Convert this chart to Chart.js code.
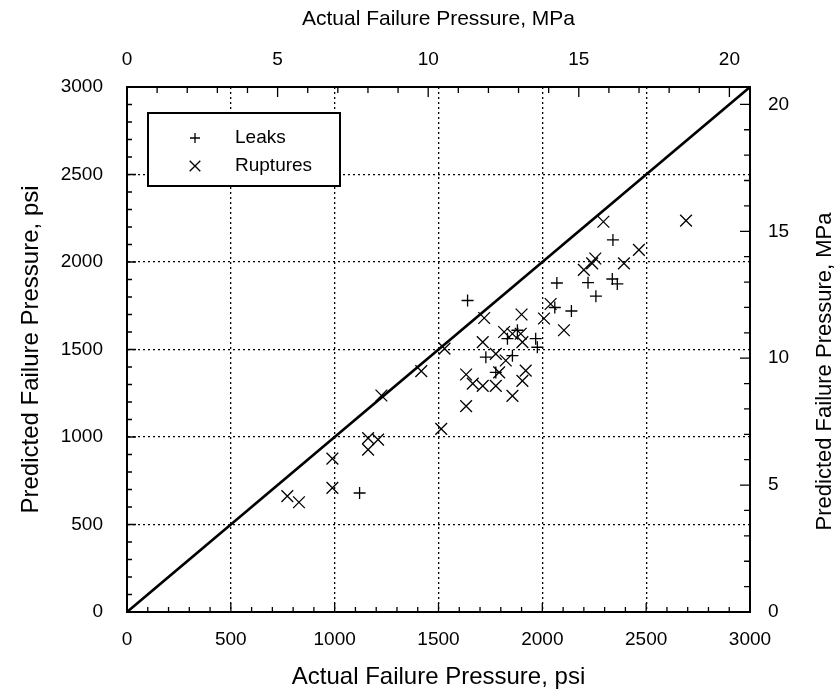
<!DOCTYPE html>
<html>
<head>
<meta charset="utf-8">
<script src="https://cdn.jsdelivr.net/npm/chart.js@4.4.0/dist/chart.umd.min.js"></script>
<style>
  body { margin: 0; background: #fff; }
</style>
</head>
<body>
<canvas id="failChart" width="839" height="692"></canvas>
<script>
const PSI_PER_MPA = 145.038;
const psiTicks = [0, 500, 1000, 1500, 2000, 2500, 3000];
const mpaTicks = [0, 5, 10, 15, 20];

// leaks (+): actual vs predicted failure pressure, psi
const leaksActual    = [1120, 1640, 1728, 1776, 1832, 1880, 1856, 1968, 1976, 2060, 2070, 2140, 2220, 2258, 2337, 2361, 2340];
const leaksPredicted = [ 680, 1780, 1456, 1369, 1562, 1610, 1465, 1562, 1513, 1740, 1880, 1720, 1882, 1805, 1903, 1875, 2126];

// ruptures (x)
const rupturesActual    = [772, 828, 989, 989, 1161, 1209, 1161, 1225, 1417, 1513, 1529, 1633, 1665, 1633, 1713, 1816, 1856, 1896, 1904, 2104, 2008, 1776, 1824, 1792, 1920, 1904, 1713, 1776, 1856, 1720, 1900, 2040, 2255, 2240, 2200, 2294, 2692, 2465, 2393];
const rupturesPredicted = [662, 627, 876, 709,  994,  985,  928, 1237, 1376, 1046, 1505, 1357, 1305, 1176, 1542, 1600, 1590, 1590, 1542, 1610, 1677, 1475, 1437, 1369, 1379, 1321, 1292, 1292, 1235, 1680, 1700, 1760, 2020, 1992, 1955, 2230, 2236, 2069, 1992];

const equalityLine = [0, 3000];

const fontFamily = "'Liberation Sans', Arial, sans-serif";

function zip(xs, ys) {
  return xs.map((x, i) => ({ x: x, y: ys[i] }));
}

// minor ticks drawn inward from each axis line
const inwardTicks = {
  id: 'inwardTicks',
  afterDatasetsDraw(chart) {
    const ctx = chart.ctx;
    const a = chart.chartArea;
    ctx.save();
    ctx.strokeStyle = '#000';
    ctx.lineWidth = 1.3;
    const psiMax = 3000, mpaMax = 3000 / PSI_PER_MPA;
    ctx.beginPath();
    for (let v = 0; v <= psiMax; v += 100) {
      const len = v % 500 === 0 ? 9 : 5;
      const px = chart.scales.x.getPixelForValue(v);
      ctx.moveTo(px, a.bottom); ctx.lineTo(px, a.bottom - len);
      const py = chart.scales.y.getPixelForValue(v);
      ctx.moveTo(a.left, py); ctx.lineTo(a.left + len, py);
    }
    for (let v = 0; v <= mpaMax; v += 1) {
      const len = v % 5 === 0 ? 10 : 6;
      const px = chart.scales.x2.getPixelForValue(v);
      ctx.moveTo(px, a.top); ctx.lineTo(px, a.top + len);
      const py = chart.scales.y2.getPixelForValue(v);
      ctx.moveTo(a.right, py); ctx.lineTo(a.right - len, py);
    }
    ctx.stroke();
    ctx.restore();
  }
};

const boxLegend = {
  id: 'boxLegend',
  afterDatasetsDraw(chart) {
    const ctx = chart.ctx;
    const a = chart.chartArea;
    const bx = a.left + 21, by = a.top + 26, bw = 192, bh = 73;
    ctx.save();
    ctx.fillStyle = '#fff';
    ctx.fillRect(bx, by, bw, bh);
    ctx.strokeStyle = '#000';
    ctx.lineWidth = 2;
    ctx.strokeRect(bx, by, bw, bh);
    const items = chart.data.datasets.filter(d => d.label);
    items.forEach((d, i) => {
      const ry = by + 25 + i * 28;
      ctx.strokeStyle = '#000';
      ctx.lineWidth = 1.3;
      Chart.helpers.drawPoint(ctx, { pointStyle: d.pointStyle, radius: d.pointStyle === 'cross' ? 5 : 7.5, rotation: 0, borderWidth: 1.3 }, bx + 47, ry);
      ctx.fillStyle = '#000';
      ctx.font = '19px ' + fontFamily;
      ctx.textAlign = 'left';
      ctx.textBaseline = 'middle';
      ctx.fillText(d.label, bx + 87, ry);
    });
    ctx.restore();
  }
};

const rightTitle = {
  id: 'rightTitle',
  afterDraw(chart) {
    const ctx = chart.ctx;
    const a = chart.chartArea;
    ctx.save();
    ctx.translate(825, (a.top + a.bottom) / 2 + 22);
    ctx.rotate(-Math.PI / 2);
    ctx.fillStyle = '#000';
    ctx.font = '22px ' + fontFamily;
    ctx.textAlign = 'center';
    ctx.textBaseline = 'middle';
    ctx.fillText('Predicted Failure Pressure, MPa', 0, 0);
    ctx.restore();
  }
};

const tickFont = { size: 19, family: fontFamily };

const config = {
  type: 'scatter',
  data: {
    datasets: [
      {
        label: 'Leaks',
        data: zip(leaksActual, leaksPredicted),
        pointStyle: 'cross',
        pointRadius: 6,
        borderColor: '#000',
        backgroundColor: 'transparent',
        borderWidth: 1.3
      },
      {
        label: 'Ruptures',
        data: zip(rupturesActual, rupturesPredicted),
        pointStyle: 'crossRot',
        pointRadius: 8.3,
        borderColor: '#000',
        backgroundColor: 'transparent',
        borderWidth: 1.3
      },
      {
        data: zip(equalityLine, equalityLine),
        showLine: true,
        pointRadius: 0,
        borderColor: '#000',
        borderWidth: 2.6
      }
    ]
  },
  options: {
    responsive: false,
    animation: false,
    layout: { padding: 0 },
    plugins: {
      legend: { display: false },
      tooltip: { enabled: false }
    },
    scales: {
      x: {
        type: 'linear',
        position: 'bottom',
        min: 0,
        max: 3000,
        afterBuildTicks: s => { s.ticks = psiTicks.map(v => ({ value: v })); },
        afterFit: s => { s.height = 80; },
        ticks: { color: '#000', font: tickFont, padding: 16, maxRotation: 0, callback: v => String(v) },
        grid: { color: '#000', lineWidth: 1.3, drawTicks: false },
        border: { color: '#000', width: 2, dash: [2, 3] },
        title: {
          display: true,
          text: 'Actual Failure Pressure, psi',
          color: '#000',
          font: { size: 24, family: fontFamily },
          padding: { top: 0, bottom: 0 }
        }
      },
      y: {
        type: 'linear',
        position: 'left',
        min: 0,
        max: 3000,
        afterBuildTicks: s => { s.ticks = psiTicks.map(v => ({ value: v })); },
        afterFit: s => { s.width = 127; },
        ticks: { color: '#000', font: tickFont, padding: 24, callback: v => String(v) },
        grid: { color: '#000', lineWidth: 1.3, drawTicks: false },
        border: { color: '#000', width: 2, dash: [2, 3] },
        title: {
          display: true,
          text: 'Predicted Failure Pressure, psi',
          color: '#000',
          font: { size: 24, family: fontFamily },
          padding: { top: 17, bottom: 0 }
        }
      },
      x2: {
        type: 'linear',
        position: 'top',
        min: 0,
        max: 3000 / PSI_PER_MPA,
        afterBuildTicks: s => { s.ticks = mpaTicks.map(v => ({ value: v })); },
        afterFit: s => { s.height = 87; },
        ticks: { color: '#000', font: tickFont, padding: 16, maxRotation: 0, callback: v => String(v) },
        grid: { display: false, drawTicks: false },
        border: { color: '#000', width: 2 },
        title: {
          display: true,
          text: 'Actual Failure Pressure, MPa',
          color: '#000',
          font: { size: 21, family: fontFamily },
          padding: { top: 7, bottom: 0 }
        }
      },
      y2: {
        type: 'linear',
        position: 'right',
        min: 0,
        max: 3000 / PSI_PER_MPA,
        afterBuildTicks: s => { s.ticks = mpaTicks.map(v => ({ value: v })); },
        afterFit: s => { s.width = 89; },
        ticks: { color: '#000', font: tickFont, padding: 18, callback: v => String(v) },
        grid: { display: false, drawTicks: false },
        border: { color: '#000', width: 2 }
      }
    }
  },
  plugins: [inwardTicks, boxLegend, rightTitle]
};

new Chart(document.getElementById('failChart'), config);
</script>
</body>
</html>
